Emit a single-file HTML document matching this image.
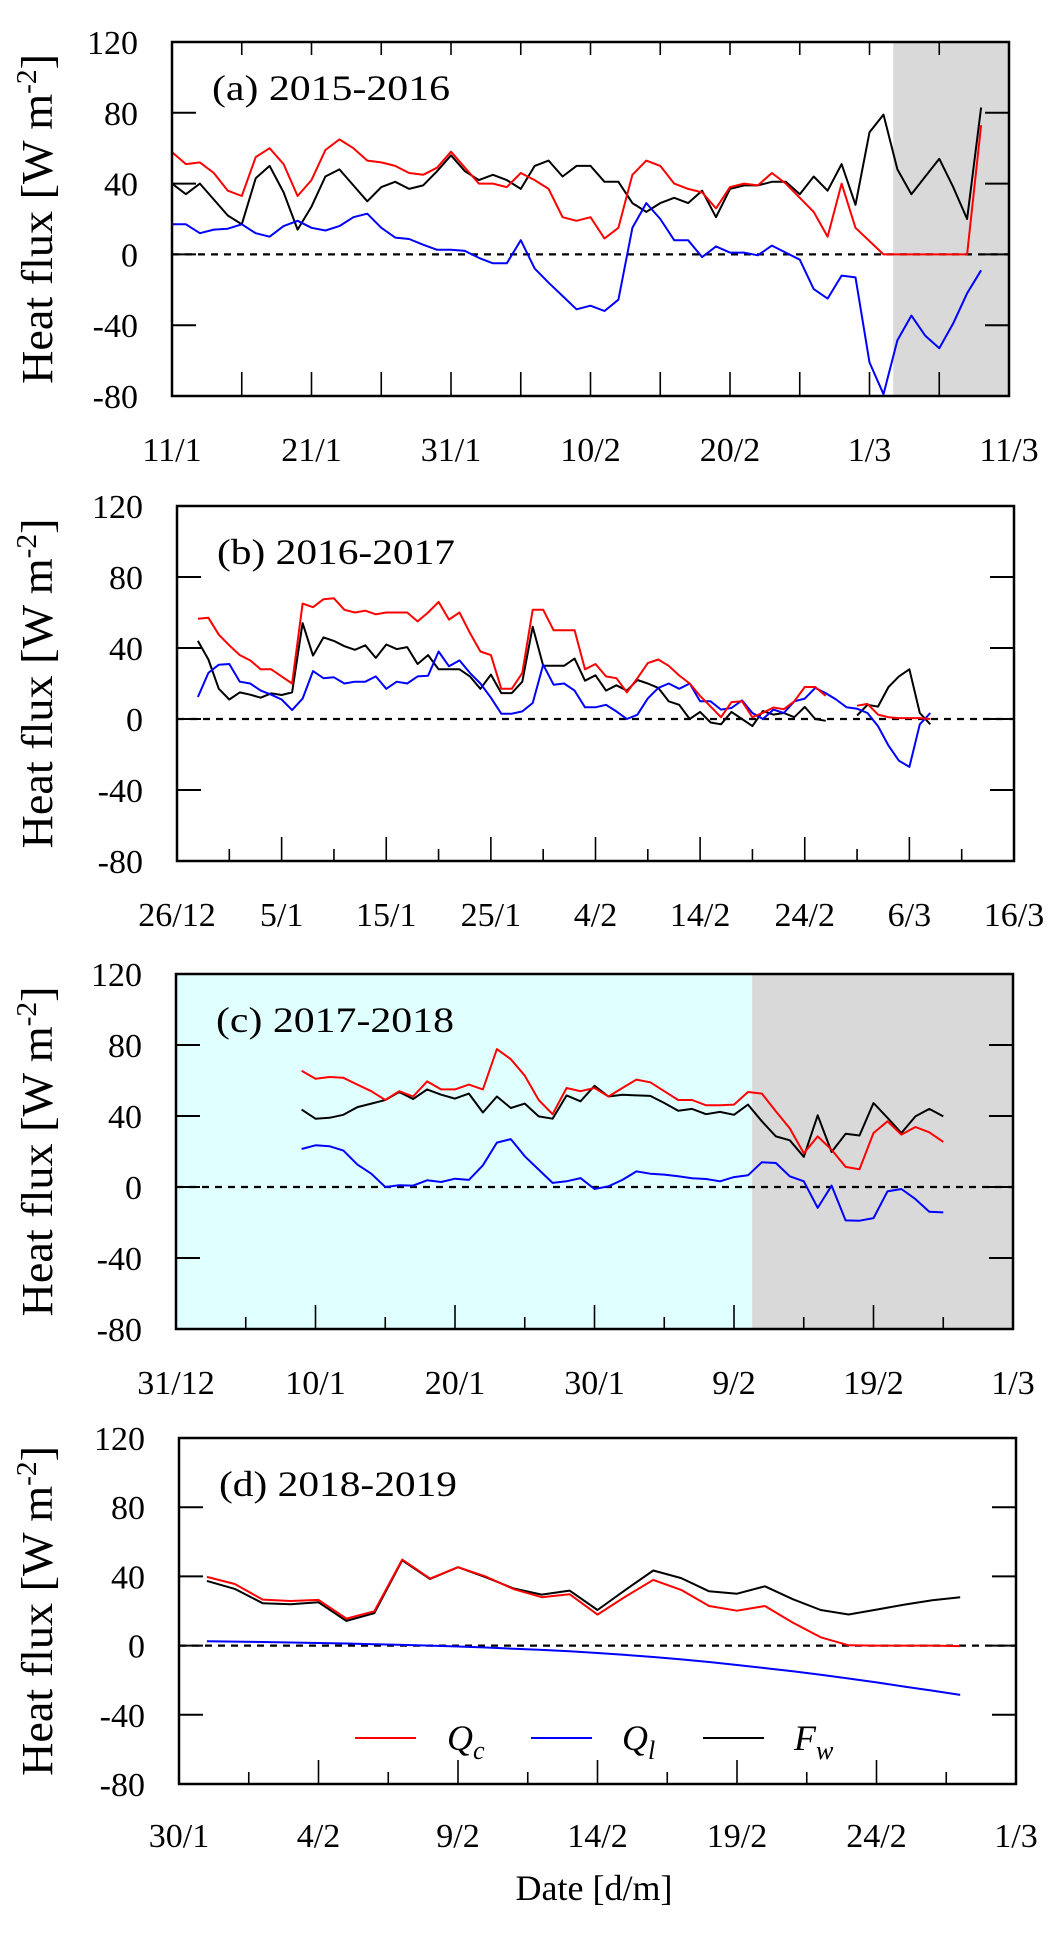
<!DOCTYPE html>
<html><head><meta charset="utf-8">
<style>
html,body{margin:0;padding:0;background:#fff;}
svg{display:block;font-family:"Liberation Serif",serif;}
</style></head>
<body>
<svg id="chart" width="1058" height="1936" viewBox="0 0 1058 1936" xmlns="http://www.w3.org/2000/svg"></svg>
<script>
// ---------- data ----------
// Panel (a) 2015-2016, daily from day 0 (11/1) to day 58
const aStart = 0;
const aQc = [57.8,51,52,46,36,33,55,60,51,33,42,59,65,60,53,52,50,46,45,49,58,49,40,40,38,46,42,37,21,19,21,9,15,45,53,50,40,37,35,26,38,40,39,46,40,32,24,10,40,15,7.5,0,0,0,0,0,0,0,73];
const aQl = [17,17,12,14,14.5,17,12,10,16,19,15,13.5,16,21,23,15,9.5,8.7,5.5,2.6,2.6,2,-2,-5,-5,8,-8,-16,-23.5,-31,-29,-32,-25.6,15,29,20,8,8,-1.5,4.5,1,1,-0.5,5,1,-3,-19.6,-25,-12,-13,-61,-79,-48.5,-34.6,-46,-53,-39,-22,-9];
const aFw = [40,34,40,31,22,17,43,50,35,14,27,44,48,39,30,38,41,37,39,47,56,47,42,45,42,37,50,53,44,50,50,41,41,29,24,29,32,29,36,21,37,39,39,41,41,34,44,36,51,28,69,79,48,34,44,54,38,20,83];
const aTicks = ["11/1","21/1","31/1","10/2","20/2","1/3","11/3"];
// Panel (b) 2016-2017, from day 2 (28/12) to day 72
const bStart = 2;
const bQc = [56.5,57,47.5,41.5,36,33,28,28,24,20,65,63,67.5,68,61.5,60,61,59,60,60,60,55,60,66,56,60,48.5,38,36,17,17,26,61.5,61.5,50,50,50,28,31,24,23,15,23,31.5,33.5,30,24.5,20,13,7,1,9.5,10,1,3.5,6.5,5.5,10,18,18,13,null,null,7.5,8.5,2.5,1,0.5,0.5,0.5,0];
const bQl = [12.4,26,30.6,31,21,20,16,13.7,11,5,11.5,27,23,23.5,20,21,21,24,17,21,20,24,24.4,38,29.7,33,26,20,12,3,3,4.3,9,30.6,19.3,20,16,6.6,6.6,8,4.3,0,2.4,11.6,17.5,20,17,20,10,10,5.3,6.2,10.5,3.4,0,5.3,3.4,10,11.5,17.5,14.6,11,6.6,5.8,3.4,-4,-15,-23.5,-27,-3,3.4];
const bFw = [44,33.5,17,11,15,13.7,12,14.5,13.5,15,54,35.7,46,44,41,39,41.5,34.4,42,39.4,40.5,31,36,28,28,28,24,17,25,14.6,14.6,21,52,30,30,30,34,21.6,24.6,16,19,16,22,20,17.5,10,8,0,4,-2,-3,4,0,-4,4.5,2.5,3.4,1,6.8,0,-1,null,null,2,8,7,18,24,28,3.4,-3];
const bTicks = ["26/12","5/1","15/1","25/1","4/2","14/2","24/2","6/3","16/3"];
// Panel (c) 2017-2018, from day 9 (9/1) to day 55
const cStart = 9;
const cQc = [65.5,61,62,61.5,57.7,54,49,54,51,59.5,55,55,57.7,55,77.7,72,62.7,49,41,55.8,54,55.8,51,55.8,60.5,59,54,49,49,46,46,46.4,53.5,52.6,42.6,33,19,28.5,21,11.3,10,30.4,37,29.5,33.8,30.8,25.4];
const cQl = [21.4,23.5,23,20.5,12.6,7.5,0,1,0.8,3.8,2.8,4.7,4,12.2,25,27,17.3,9.8,2.3,3.2,5,-1.1,0.4,4,8.8,7.5,7,6,4.9,4.5,3.2,5.6,6.6,14,13.5,6,3.2,-11.8,0.8,-18.8,-19,-17.5,-2.4,-1.1,-6.8,-14,-14.3];
const cFw = [43.6,38.5,39,40.7,45,47,49,53.5,49.6,55,52,49.8,52.6,42,51,44.5,47,39.8,38.5,51.6,48.3,57,51,52,51.6,51.3,47.3,43,44,41,42.3,40.7,46.4,37,28.5,26.3,17,40.4,19.7,30,29,47.3,39,30.4,39.8,44,39.8];
const cTicks = ["31/12","10/1","20/1","30/1","9/2","19/2","1/3"];
// Panel (d) 2018-2019, from day 1 (31/1) to day 28
const dStart = 1;
const dQc = [39.7,35.6,26.6,25.8,26.4,15.6,19.8,49.7,38.7,45.3,39.9,32.6,28,29.7,17.9,28.3,38,32.2,22.9,20.2,22.9,13.3,4.8,0.2,0,0,0,-0.3];
const dQl = [2.5,2.3,2.1,1.8,1.5,1.2,0.8,0.4,0,-0.5,-1.1,-1.8,-2.5,-3.3,-4.3,-5.4,-6.6,-8,-9.5,-11.2,-13,-14.8,-16.8,-19,-21.3,-23.7,-26,-28.5];
const dFw = [37.4,32.8,24.5,23.9,25,14.3,18.7,49.3,38.5,45.3,39.5,33,29.5,31.8,20.6,32.2,43.4,39,31.4,30,34.3,26.8,20.6,18,20.8,23.7,26.2,28];
const dTicks = ["30/1","4/2","9/2","14/2","19/2","24/2","1/3"];
const yTicks = [120,80,40,0,-40,-80];

// ---------- drawing ----------
const NS = "http://www.w3.org/2000/svg";
const svg = document.getElementById("chart");
function mk(tag, attrs, parent){
  const e = document.createElementNS(NS, tag);
  for (const k in attrs) e.setAttribute(k, attrs[k]);
  (parent || svg).appendChild(e);
  return e;
}
const panels = [
  {id:"a", label:"(a) 2015-2016", x0:172, x1:1009, y0:42, y1:396, days:60, start:aStart, qc:aQc, ql:aQl, fw:aFw, ticks:aTicks, tickStep:10, minor:true, topTicks:true, lblY:461, gray:[51.7,60]},
  {id:"b", label:"(b) 2016-2017", x0:177, x1:1014, y0:506, y1:861, days:80, start:bStart, qc:bQc, ql:bQl, fw:bFw, ticks:bTicks, tickStep:10, minor:true, topTicks:false, lblY:926},
  {id:"c", label:"(c) 2017-2018", x0:176, x1:1013, y0:974, y1:1329, days:60, start:cStart, qc:cQc, ql:cQl, fw:cFw, ticks:cTicks, tickStep:10, minor:true, topTicks:false, lblY:1394, cyan:[0,41.3], gray:[41.3,60]},
  {id:"d", label:"(d) 2018-2019", x0:179, x1:1016, y0:1438, y1:1784, days:30, start:dStart, qc:dQc, ql:dQl, fw:dFw, ticks:dTicks, tickStep:5, minor:true, topTicks:false, lblY:1847, legend:true}
];
panels.forEach(p => {
  const g = mk("g", {});
  
  
  const xs = d => p.x0 + (p.x1 - p.x0) * d / p.days;
  const ys = v => p.y1 - (p.y1 - p.y0) * (v + 80) / 200;
  if (p.cyan) {
    const r = mk("rect", {x:xs(p.cyan[0]), y:p.y0, width:xs(p.cyan[1])-xs(p.cyan[0]), height:p.y1-p.y0, fill:"#e0ffff"}, g);
    
    
  }
  if (p.gray) {
    const r = mk("rect", {x:xs(p.gray[0]), y:p.y0, width:xs(p.gray[1])-xs(p.gray[0]), height:p.y1-p.y0, fill:"#d9d9d9"}, g);
    
    
  }
  // zero line
  const z = mk("line", {x1:p.x0, x2:p.x1, y1:ys(0), y2:ys(0), stroke:"#000", "stroke-width":2.2, "stroke-dasharray":"7,6"}, g);
  
  
  // y ticks + labels
  yTicks.forEach(v => {
    const y = ys(v);
    mk("line", {x1:p.x0, x2:p.x0+24, y1:y, y2:y, stroke:"#000", "stroke-width":2}, g);
    mk("line", {x1:p.x1-24, x2:p.x1, y1:y, y2:y, stroke:"#000", "stroke-width":2}, g);
    const t = mk("text", {x:p.x0-34, y:y+12, "text-anchor":"end", "font-size":34}, g);
    t.textContent = v;
    
    
  });
  // x ticks
  const minorStep = p.tickStep / 2;
  for (let d = 0; d <= p.days + 0.01; d += minorStep) {
    const x = xs(d);
    const major = Math.abs(d / p.tickStep - Math.round(d / p.tickStep)) < 1e-6;
    const len = (p.id === "a" || major) ? 24 : 12;
    mk("line", {x1:x, x2:x, y1:p.y1, y2:p.y1-len, stroke:"#000", "stroke-width":1.6}, g);
    if (p.topTicks) mk("line", {x1:x, x2:x, y1:p.y0, y2:p.y0+13, stroke:"#000", "stroke-width":1.6}, g);
  }
  p.ticks.forEach((lab, i) => {
    const t = mk("text", {x:xs(i * p.tickStep), y:p.lblY, "text-anchor":"middle", "font-size":34}, g);
    t.textContent = lab;
    
    
  });
  // series
  const series = [[p.fw, "#000", "fw"], [p.ql, "#0000ff", "ql"], [p.qc, "#ff0000", "qc"]];
  series.forEach(([arr, col, nm]) => {
    let d = "", pen = false;
    arr.forEach((v, i) => {
      if (v === null) { pen = false; return; }
      d += (pen ? "L" : "M") + xs(p.start + i).toFixed(1) + "," + ys(v).toFixed(1);
      pen = true;
    });
    const path = mk("path", {d:d, fill:"none", stroke:col, "stroke-width":2, "stroke-linejoin":"round"}, g);
    
    
  });
  // frame
  const f = mk("rect", {x:p.x0, y:p.y0, width:p.x1-p.x0, height:p.y1-p.y0, fill:"none", stroke:"#000", "stroke-width":2.5}, g);
  
  
  // panel label
  const pl = mk("text", {x:p.x0+40, y:p.y0+58, "font-size":36, textLength:238, lengthAdjust:"spacingAndGlyphs"}, g);
  pl.textContent = p.label;
  
  
  // y axis title
  const cy = (p.y0 + p.y1) / 2;
  const yt = mk("text", {x:0, y:0, "font-size":44, "text-anchor":"middle", textLength:330, lengthAdjust:"spacingAndGlyphs", transform:"translate(52," + cy + ") rotate(-90)"}, g);
  
  
  yt.appendChild(document.createTextNode("Heat flux [W m"));
  const sup = mk("tspan", {dy:-16, "font-size":28}, yt);
  sup.textContent = "-2";
  const cl = mk("tspan", {dy:16}, yt);
  cl.textContent = "]";
  // legend
  if (p.legend) {
    const lg = mk("g", {}, g);
    
    
    const items = [["#ff0000", 355, 447, "Q", "c"], ["#0000ff", 531, 622, "Q", "l"], ["#000", 703, 794, "F", "w"]];
    items.forEach(([col, lx, tx, L, s]) => {
      mk("line", {x1:lx, x2:lx+61, y1:1738, y2:1738, stroke:col, "stroke-width":2}, lg);
      const t = mk("text", {x:tx, y:1750, "font-size":36, "font-style":"italic"}, lg);
      
      
      t.appendChild(document.createTextNode(L));
      const sb = mk("tspan", {dy:9, "font-size":26}, t);
      sb.textContent = s;
    });
  }
});
const xt = mk("text", {x:594, y:1900, "text-anchor":"middle", "font-size":36});
xt.textContent = "Date [d/m]";


</script>
</body></html>
